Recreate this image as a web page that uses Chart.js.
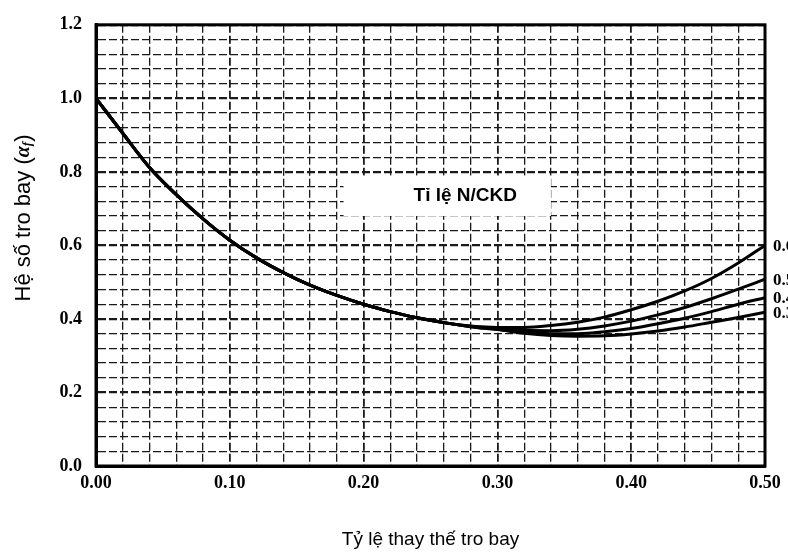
<!DOCTYPE html>
<html>
<head>
<meta charset="utf-8">
<script src="https://cdn.jsdelivr.net/npm/chart.js@4.4.0/dist/chart.umd.min.js"></script>
<style>
  body { margin: 0; background: #fff; }
</style>
</head>
<body>
<canvas id="chart" width="788" height="558"></canvas>
<script>
// tỷ lệ thay thế tro bay (trục hoành)
const xValues = [0, 0.02, 0.04, 0.06, 0.08, 0.10, 0.12, 0.14, 0.16, 0.18, 0.20, 0.22, 0.24, 0.26, 0.28,
                 0.30, 0.32, 0.34, 0.36, 0.38, 0.40, 0.42, 0.44, 0.46, 0.48, 0.50]

// hệ số tro bay cho từng tỉ lệ N/CKD
const curve06 = [1.0, 0.905, 0.812, 0.738, 0.672, 0.614, 0.566, 0.526, 0.492, 0.464, 0.440, 0.420, 0.403, 0.390, 0.381,
                 0.377, 0.377, 0.382, 0.391, 0.405, 0.425, 0.448, 0.476, 0.510, 0.552, 0.600]
const curve05 = [1.0, 0.905, 0.812, 0.738, 0.672, 0.614, 0.566, 0.526, 0.492, 0.464, 0.440, 0.420, 0.403, 0.390, 0.380,
                 0.374, 0.369, 0.368, 0.372, 0.381, 0.394, 0.411, 0.431, 0.455, 0.481, 0.508]
const curve04 = [1.0, 0.905, 0.812, 0.738, 0.672, 0.614, 0.566, 0.526, 0.492, 0.464, 0.440, 0.420, 0.403, 0.390, 0.379,
                 0.372, 0.364, 0.360, 0.360, 0.365, 0.374, 0.387, 0.402, 0.420, 0.440, 0.458]
const curve03 = [1.0, 0.905, 0.812, 0.738, 0.672, 0.614, 0.566, 0.526, 0.492, 0.464, 0.440, 0.420, 0.403, 0.390, 0.379,
                 0.371, 0.361, 0.355, 0.353, 0.354, 0.359, 0.367, 0.378, 0.391, 0.404, 0.418]

const curveLabels = ['0.6', '0.5', '0.4', '0.3']
const allCurves = [curve06, curve05, curve04, curve03]

function isMult(v, step) {
    const r = v / step
    return Math.abs(r - Math.round(r)) < 1e-6
}

const tickFont = { family: 'Liberation Serif', weight: 'bold', size: 18 }

// chữ ghi chú, nhãn đường cong, khung và tên trục tung
const extras = {
    id: 'extras',
    beforeDatasetsDraw(chart) {
        const ctx = chart.ctx
        const xs = chart.scales.x, ys = chart.scales.y
        const x1 = xs.getPixelForValue(0.185), x2 = xs.getPixelForValue(0.34)
        const y1 = ys.getPixelForValue(0.79), y2 = ys.getPixelForValue(0.68)
        ctx.save()
        ctx.fillStyle = '#fff'
        ctx.fillRect(x1, y1, x2 - x1, y2 - y1)
        ctx.fillStyle = '#000'
        ctx.font = 'bold 19px "Liberation Sans"'
        ctx.textAlign = 'center'
        ctx.textBaseline = 'middle'
        ctx.fillText('Tỉ lệ N/CKD', xs.getPixelForValue(0.276), ys.getPixelForValue(0.735))
        ctx.restore()
    },
    afterDatasetsDraw(chart) {
        const ctx = chart.ctx
        const a = chart.chartArea
        ctx.save()
        ctx.strokeStyle = '#000'
        ctx.lineWidth = 3
        ctx.strokeRect(a.left, a.top, a.right - a.left, a.bottom - a.top)

        ctx.fillStyle = '#000'
        ctx.font = 'bold 17px "Liberation Serif"'
        ctx.textAlign = 'left'
        ctx.textBaseline = 'middle'
        chart.data.datasets.forEach((ds, i) => {
            const pts = chart.getDatasetMeta(i).data
            const p = pts[pts.length - 1]
            ctx.fillText(curveLabels[i], p.x + 8, p.y + 1)
        })

        // tên trục tung
        ctx.translate(24, 218)
        ctx.rotate(-Math.PI / 2)
        ctx.textBaseline = 'middle'
        const part1 = 'Hệ số tro bay ('
        ctx.font = '22px "Liberation Sans"'
        const w1 = ctx.measureText(part1).width
        ctx.font = 'italic bold 20px "Liberation Serif"'
        const w2 = ctx.measureText('α').width
        ctx.font = 'italic bold 13px "Liberation Serif"'
        const w3 = ctx.measureText('f').width
        ctx.font = '22px "Liberation Sans"'
        const w4 = ctx.measureText(')').width
        let x = -(w1 + w2 + w3 + w4) / 2
        ctx.fillText(part1, x, 0); x += w1
        ctx.font = 'italic bold 20px "Liberation Serif"'
        ctx.fillText('α', x, 0); x += w2
        ctx.font = 'italic bold 13px "Liberation Serif"'
        ctx.fillText('f', x, 4); x += w3
        ctx.font = '22px "Liberation Sans"'
        ctx.fillText(')', x, 0)
        ctx.restore()
    }
}

new Chart(document.getElementById('chart'), {
    type: 'line',
    data: {
        datasets: allCurves.map((c, i) => ({
            label: curveLabels[i],
            data: xValues.map((x, j) => ({ x: x, y: c[j] })),
            borderColor: '#000',
            borderWidth: 3,
            pointRadius: 0,
            fill: false,
            tension: 0.4,
            cubicInterpolationMode: 'monotone'
        }))
    },
    options: {
        responsive: false,
        animation: false,
        layout: { padding: { top: 18, right: 23, left: 0, bottom: 0 } },
        plugins: {
            legend: { display: false },
            tooltip: { enabled: false }
        },
        scales: {
            x: {
                type: 'linear',
                min: 0,
                max: 0.5,
                afterFit: (s) => { s.height = 92 },
                ticks: {
                    stepSize: 0.02,
                    autoSkip: false,
                    maxRotation: 0,
                    padding: 7,
                    color: '#000',
                    font: tickFont,
                    callback: (v) => isMult(v, 0.1) ? v.toFixed(2) : ''
                },
                grid: {
                    drawTicks: false,
                    color: '#1a1a1a',
                    lineWidth: (c) => c.tick && isMult(c.tick.value, 0.1) ? 1.8 : 1.3
                },
                border: { display: true, color: '#000', width: 3, dash: [8, 3] },
                title: {
                    display: true,
                    text: 'Tỷ lệ thay thế tro bay',
                    color: '#000',
                    font: { family: 'Liberation Sans', size: 19 },
                    padding: { top: 0, bottom: 7 }
                }
            },
            y: {
                min: 0,
                max: 1.2,
                afterFit: (s) => { s.width = 96 },
                ticks: {
                    stepSize: 0.04,
                    autoSkip: false,
                    padding: 14,
                    color: '#000',
                    font: tickFont,
                    callback: (v) => isMult(v, 0.2) ? v.toFixed(1) : ''
                },
                grid: {
                    drawTicks: false,
                    color: '#1a1a1a',
                    lineWidth: (c) => c.tick && isMult(c.tick.value, 0.2) ? 2.2 : 1.3
                },
                border: { display: true, color: '#000', width: 3, dash: [8, 3] }
            }
        }
    },
    plugins: [extras]
})
</script>
</body>
</html>
